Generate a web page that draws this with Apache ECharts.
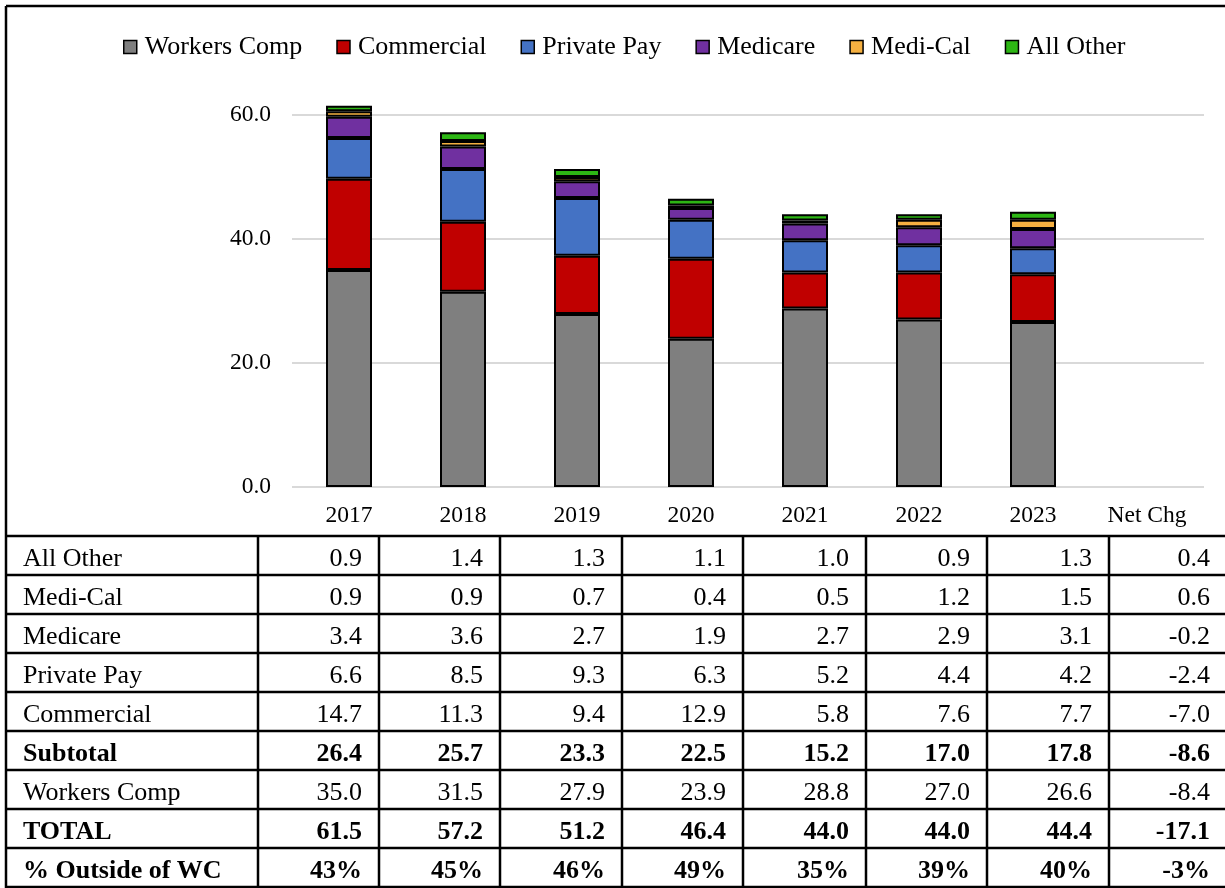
<!DOCTYPE html>
<html><head><meta charset="utf-8">
<script src="https://cdn.jsdelivr.net/npm/echarts@6/dist/echarts.min.js"></script>
<style>html,body{margin:0;padding:0;background:#fff}#c{width:1225px;height:888px}</style>
</head><body><div id="c"></div>
<script>
// ---- data ----
const categories = ['2017','2018','2019','2020','2021','2022','2023','Net Chg'];
const seriesNames = ['Workers Comp','Commercial','Private Pay','Medicare','Medi-Cal','All Other'];
const workersComp = [35.0,31.5,27.9,23.9,28.8,27.0,26.6];
const commercial  = [14.7,11.3,9.4,12.9,5.8,7.6,7.7];
const privatePay  = [6.6,8.5,9.3,6.3,5.2,4.4,4.2];
const medicare    = [3.4,3.6,2.7,1.9,2.7,2.9,3.1];
const mediCal     = [0.9,0.9,0.7,0.4,0.5,1.2,1.5];
const allOther    = [0.9,1.4,1.3,1.1,1.0,0.9,1.3];
const subtotal    = [26.4,25.7,23.3,22.5,15.2,17.0,17.8];
const total       = [61.5,57.2,51.2,46.4,44.0,44.0,44.4];
const pctOutside  = [43,45,46,49,35,39,40];
const netChange   = [0.4,0.6,-0.2,-2.4,-7.0,-8.6,-8.4,-17.1,-3];
const yTickValues = [0,20,40,60];

// ---- style ----
const FONT = "'Liberation Serif','Times New Roman',serif";
const colors = ['#7f7f7f','#c00000','#4472c4','#7030a0','#f5b041','#2db614'];
const seriesData = [workersComp, commercial, privatePay, medicare, mediCal, allOther];

const chart = echarts.init(document.getElementById('c'), null, {renderer:'canvas'});

// table layout
const colEdges = [6,258,379,500,622,743,866,987,1109,1225];
const tableTop = 536, rowH = 39;
const f1 = v => v.toFixed(1);
const fp = v => v + '%';
const rows = [
  {label:'All Other', vals: allOther, bold:false, fmt:f1},
  {label:'Medi-Cal', vals: mediCal, bold:false, fmt:f1},
  {label:'Medicare', vals: medicare, bold:false, fmt:f1},
  {label:'Private Pay', vals: privatePay, bold:false, fmt:f1},
  {label:'Commercial', vals: commercial, bold:false, fmt:f1},
  {label:'Subtotal', vals: subtotal, bold:true, fmt:f1},
  {label:'Workers Comp', vals: workersComp, bold:false, fmt:f1},
  {label:'TOTAL', vals: total, bold:true, fmt:f1},
  {label:'% Outside of WC', vals: pctOutside, bold:true, fmt:fp}
];

const graphics = [];
const LW = 2.5;
// outer frame top + left
graphics.push({type:'line', shape:{x1:colEdges[0], y1:6, x2:1225, y2:6}, style:{stroke:'#000', lineWidth:LW}});
graphics.push({type:'line', shape:{x1:colEdges[0], y1:6, x2:colEdges[0], y2:888}, style:{stroke:'#000', lineWidth:LW}});
// horizontal table lines
for (let i = 0; i <= rows.length; i++) {
  const y = tableTop + i*rowH;
  graphics.push({type:'line', shape:{x1:colEdges[0], y1:y, x2:1225, y2:y}, style:{stroke:'#000', lineWidth:LW}});
}
// vertical dividers
for (let j = 1; j < colEdges.length - 1; j++) {
  graphics.push({type:'line', shape:{x1:colEdges[j], y1:tableTop, x2:colEdges[j], y2:888}, style:{stroke:'#000', lineWidth:LW}});
}
rows.forEach((r, i) => {
  const cy = tableTop + i*rowH + rowH/2 + 4;
  const fw = r.bold ? 'bold' : 'normal';
  graphics.push({type:'text', x: 23, y: cy, style:{text:r.label, font: fw + ' 26px ' + FONT, fill:'#000', textAlign:'left', textVerticalAlign:'middle'}});
  const all = r.vals.concat([netChange[i]]);
  all.forEach((v, k) => {
    const right = colEdges[k+2] - (k === all.length-1 ? 15 : 17);
    graphics.push({type:'text', x: right, y: cy, style:{text:r.fmt(v), font: fw + ' 26px ' + FONT, fill:'#000', textAlign:'right', textVerticalAlign:'middle'}});
  });
});

const option = {
  backgroundColor:'#fff',
  animation:false,
  textStyle:{fontFamily:FONT},
  legend:{
    data: seriesNames,
    left: 118, top: 29,
    itemWidth: 13, itemHeight: 13, itemGap: 34,
    icon: 'rect',
    itemStyle:{borderColor:'#000', borderWidth:1.5},
    textStyle:{fontFamily:FONT, fontSize:26, color:'#000', padding:[0,0,0,3]}
  },
  grid:{left:292, right:21, top:115, bottom:401, containLabel:false},
  xAxis:{
    type:'category', data: categories,
    axisLine:{show:false}, axisTick:{show:false},
    axisLabel:{fontFamily:FONT, fontSize:23.5, color:'#000', margin:17}
  },
  yAxis:{
    type:'value', min:0, max:60, interval:20,
    axisLabel:{fontFamily:FONT, fontSize:23.5, color:'#000', margin:21, formatter: v => yTickValues.includes(v) ? v.toFixed(1) : ''},
    axisLine:{show:false}, axisTick:{show:false},
    splitLine:{lineStyle:{color:'#d9d9d9', width:2}}
  },
  series: seriesNames.map((n, i) => ({
    name:n, type:'bar', stack:'total', barWidth:46, clip:false,
    data: seriesData[i],
    itemStyle:{color:colors[i], borderColor:'#000', borderWidth:2}
  })),
  graphic: graphics
};
chart.setOption(option);
</script>
</body></html>
